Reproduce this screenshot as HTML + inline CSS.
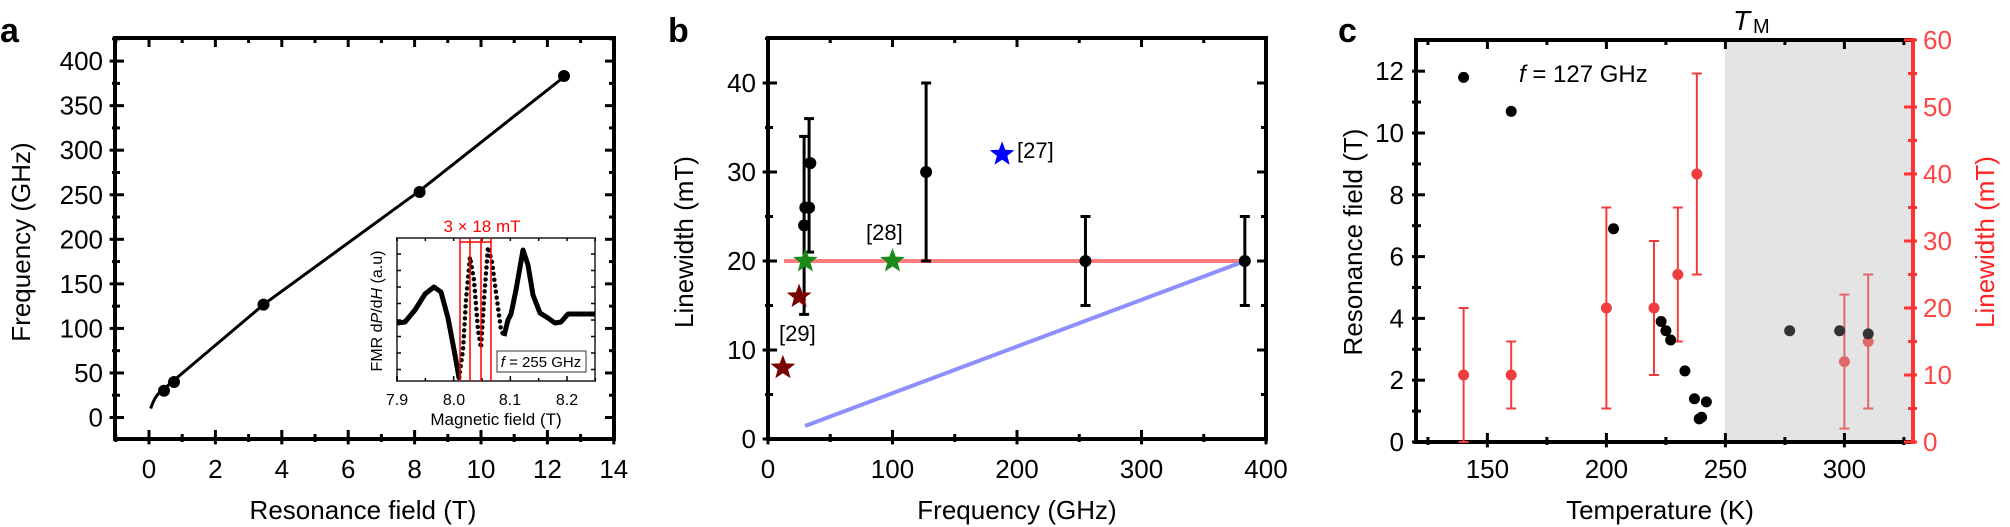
<!DOCTYPE html>
<html><head><meta charset="utf-8">
<style>
html,body{margin:0;padding:0;background:#fff;}
svg{display:block;font-family:"Liberation Sans",Arial,sans-serif;}
</style></head>
<body>
<svg id="s" width="2010" height="527" viewBox="0 0 2010 527" xmlns="http://www.w3.org/2000/svg">
<!-- panel c gray region -->
<rect x="1725" y="40" width="188" height="402" fill="#e4e4e4"/>

<!-- Panel letters -->
<text x="0" y="42" font-size="34" font-weight="bold">a</text>
<text x="668" y="42" font-size="34" font-weight="bold">b</text>
<text x="1338" y="42" font-size="34" font-weight="bold">c</text>

<!-- Panel a -->
<g id="pa"></g>
<text x="363" y="519" font-size="26" text-anchor="middle">Resonance field (T)</text>
<text transform="translate(30,242) rotate(-90)" font-size="26" text-anchor="middle">Frequency (GHz)</text>
<path d="M150.7,408.6 Q155,395 162,390.8 L171.9,382 L263.5,304.6 L419.6,190.8 L563.9,77" fill="none" stroke="#000" stroke-width="3"/>
<g fill="#000">
<circle cx="164" cy="390.8" r="6"/><circle cx="174" cy="382" r="6"/>
<circle cx="263.5" cy="304.6" r="6"/><circle cx="419.6" cy="192" r="6"/><circle cx="564" cy="76" r="6"/>
</g>
<!-- inset -->
<rect x="397" y="238" width="198" height="143" fill="#fff" stroke="#555" stroke-width="2"/>
<g id="inset"></g>
<polyline points="397,323 405,322 415,310 425,294 434,287 441,292 448,318 455,355 459,378" fill="none" stroke="#000" stroke-width="5" stroke-linejoin="round"/>
<polyline points="459,378 463,350 466,300 470,257 474,280 478,330 481,348 484,300 488,247 492,262 497,300 501,330 504,336" fill="none" stroke="#000" stroke-width="4.5" stroke-linecap="round" stroke-dasharray="0 6"/>
<polyline points="504,336 508,320 511,314 516,290 523,250 528,265 533,295 540,313 548,318 555,323 561,322 568,314 595,314" fill="none" stroke="#000" stroke-width="5" stroke-linejoin="round"/>
<g stroke="#f00" stroke-width="1.5">
<line x1="460" y1="238" x2="460" y2="381"/><line x1="470" y1="238" x2="470" y2="381"/>
<line x1="481" y1="238" x2="481" y2="381"/><line x1="491" y1="238" x2="491" y2="381"/>
<line x1="460" y1="242" x2="491" y2="242"/>
</g>
<text x="482" y="232" font-size="17" fill="#f00" text-anchor="middle">3 × 18 mT</text>
<rect x="497" y="351" width="89" height="21" fill="#fff" stroke="#333" stroke-width="1"/>
<text x="541" y="367" font-size="15" text-anchor="middle"><tspan font-style="italic">f</tspan> = 255 GHz</text>
<g font-size="16" text-anchor="middle">
<text x="397" y="405">7.9</text><text x="454" y="405">8.0</text><text x="510" y="405">8.1</text><text x="567" y="405">8.2</text>
</g>
<text x="496" y="425" font-size="17" text-anchor="middle">Magnetic field (T)</text>
<text transform="translate(382,311) rotate(-90)" font-size="16" text-anchor="middle">FMR d<tspan font-style="italic">P</tspan>/d<tspan font-style="italic">H</tspan> (a.u)</text>

<!-- Panel b -->
<g id="pb"></g>
<text x="1017" y="519" font-size="26" text-anchor="middle">Frequency (GHz)</text>
<text transform="translate(693,242) rotate(-90)" font-size="26" text-anchor="middle">Linewidth (mT)</text>
<line x1="784" y1="261" x2="1245" y2="261" stroke="#f77" stroke-width="4" opacity="0.95"/>
<line x1="805" y1="426" x2="1245" y2="261" stroke="#88f" stroke-width="4" opacity="0.95"/>
<g stroke="#000" stroke-width="3" id="bars"></g>
<g id="stars"></g>
<g font-size="22">
<text x="1017" y="158">[27]</text><text x="866" y="240">[28]</text><text x="779" y="341">[29]</text>
</g>

<!-- Panel c -->
<g id="pc"></g>
<text x="1660" y="519" font-size="26" text-anchor="middle">Temperature (K)</text>
<text transform="translate(1362,242) rotate(-90)" font-size="26" text-anchor="middle">Resonance field (T)</text>
<text transform="translate(1994,242) rotate(-90)" font-size="26" text-anchor="middle" fill="#f22">Linewidth (mT)</text>
<text x="1733" y="30" font-size="28" font-style="italic">T</text><text x="1753" y="33" font-size="20">M</text>
<text x="1519" y="82" font-size="24"><tspan font-style="italic">f</tspan> = 127 GHz</text>
<g id="cpts"></g>
</svg>
<script>
var NS="http://www.w3.org/2000/svg";
function el(p,t,a){var e=document.createElementNS(NS,t);for(var k in a)e.setAttribute(k,a[k]);document.getElementById(p).appendChild(e);return e;}
function txt(p,x,y,s,sz,anc,fill){var e=el(p,"text",{x:x,y:y,"font-size":sz,"text-anchor":anc||"middle",fill:fill||"#000"});e.textContent=s;}
function frame(g,L,T,R,B,rightCol){
  el(g,"line",{x1:L,y1:T,x2:R,y2:T,stroke:"#000","stroke-width":4});
  el(g,"line",{x1:L,y1:B,x2:R,y2:B,stroke:"#000","stroke-width":4});
  el(g,"line",{x1:L,y1:T-2,x2:L,y2:B+2,stroke:"#000","stroke-width":4});
  el(g,"line",{x1:R,y1:T-2,x2:R,y2:B+2,stroke:rightCol||"#000","stroke-width":4});
}
function xt(g,x,T,B,len){el(g,"line",{x1:x,y1:B-len,x2:x,y2:B+len*0.6,stroke:"#000","stroke-width":3});el(g,"line",{x1:x,y1:T,x2:x,y2:T+len,stroke:"#000","stroke-width":3});}
function yt(g,y,L,R,len,col,rOnly){if(!rOnly)el(g,"line",{x1:L-len*0.6,y1:y,x2:L+len,y2:y,stroke:"#000","stroke-width":3});el(g,"line",{x1:R-len,y1:y,x2:R+(col?len*0.6:0),y2:y,stroke:col||"#000","stroke-width":3});}
// Panel a
(function(){var L=115,T=38,R=614,B=439;frame("pa",L,T,R,B);
for(var v=-1;v<=14;v++){var x=149+33.2*v;if(x<L||x>R)continue;xt("pa",x,T,B,v%2==0?9:5);if(v%2==0&&v>=0)txt("pa",x,478,v,26);}
for(var f=-25;f<=425;f+=25){var y=417.5-0.891*f;if(y<T||y>B)continue;yt("pa",y,L,R,f%50==0?9:5);if(f%50==0&&f>=0)txt("pa",L-12,y+9,f,26,"end");}
})();
// inset ticks
(function(){var L=397,T=238,R=595,B=381;
for(var v=7.9;v<8.26;v+=0.05){var x=397+566.7*(v-7.9);el("inset","line",{x1:x,y1:B,x2:x,y2:B-(Math.round(v*100)%10==0?5:3),stroke:"#000","stroke-width":1.5});el("inset","line",{x1:x,y1:T,x2:x,y2:T+3,stroke:"#000","stroke-width":1.5});}
for(var y=254;y<381;y+=16.5){el("inset","line",{x1:L,y1:y,x2:L+4,y2:y,stroke:"#000","stroke-width":1.5});el("inset","line",{x1:R,y1:y,x2:R-4,y2:y,stroke:"#000","stroke-width":1.5});}
})();
// Panel b
(function(){var L=768,T=38,R=1266,B=439;frame("pb",L,T,R,B);
function X(f){return 768+1.245*f;}function Y(m){return 439-8.9*m;}
for(var f=0;f<=400;f+=50){var x=X(f);xt("pb",x,T,B,f%100==0?9:5);if(f%100==0)txt("pb",x,478,f,26);}
for(var m=0;m<=45;m+=5){var y=Y(m);yt("pb",y,L,R,m%10==0?9:5);if(m%10==0)txt("pb",L-12,y+9,m,26,"end");}
var bars=[[29,14,34],[33,21,36],[127,20,40],[255,15,25],[383,15,25]];
bars.forEach(function(b){var x=X(b[0]);el("bars","line",{x1:x,y1:Y(b[1]),x2:x,y2:Y(b[2])});el("bars","line",{x1:x-5,y1:Y(b[1]),x2:x+5,y2:Y(b[1])});el("bars","line",{x1:x-5,y1:Y(b[2]),x2:x+5,y2:Y(b[2])});});
[[29,24],[30,26],[33,26],[34,31],[127,30],[255,20],[383,20]].forEach(function(p){el("bars","circle",{cx:X(p[0]),cy:Y(p[1]),r:6,fill:"#000",stroke:"none"});});
function star(cx,cy,r,c){var pts=[];for(var i=0;i<10;i++){var a=-Math.PI/2+i*Math.PI/5;var rr=i%2?r*0.42:r;pts.push((cx+rr*Math.cos(a)).toFixed(1)+","+(cy+rr*Math.sin(a)).toFixed(1));}el("stars","polygon",{points:pts.join(" "),fill:c});}
star(X(12),Y(8),13,"#7a0000");star(X(25),Y(16),13,"#7a0000");
star(X(30),Y(20),13,"#1a8a1a");star(X(100),Y(20),13,"#1a8a1a");star(X(188),Y(32),13,"#0000ff");
})();
// Panel c
(function(){var L=1416,T=40,R=1913,B=442;frame("pc",L,T,R,B,"#f33");
function X(t){return 1416+(t-120)*2.38;}function YL(b){return 442-30.9*b;}function YR(m){return 442-6.7*m;}
for(var t=125;t<=325;t+=25){var x=X(t);xt("pc",x,T,B,t%50==0?9:5);if(t%50==0)txt("pc",x,478,t,26);}
for(var b=0;b<=12;b++){var y=YL(b);el("pc","line",{x1:L-4,y1:y,x2:L+(b%2==0?9:5),y2:y,stroke:"#000","stroke-width":3});if(b%2==0)txt("pc",L-12,y+9,b,26,"end");}
for(var m=0;m<=60;m+=5){var y=YR(m);el("pc","line",{x1:R-(m%10==0?9:5),y1:y,x2:R+4,y2:y,stroke:"#f33","stroke-width":3});if(m%10==0)txt("pc",R+10,y+9,m,26,"start","#f44");}
[[140,10,0,20],[160,10,5,15],[200,20,5,35],[220,20,10,30],[230,25,15,35],[238,40,25,55],[300,12,2,22],[310,15,5,25]].forEach(function(p){var x=X(p[0]);var c=p[0]>250?"#e06868":"#f03c3c";
el("cpts","line",{x1:x,y1:YR(p[2]),x2:x,y2:YR(p[3]),stroke:c,"stroke-width":2});
el("cpts","line",{x1:x-5,y1:YR(p[2]),x2:x+5,y2:YR(p[2]),stroke:c,"stroke-width":2});
el("cpts","line",{x1:x-5,y1:YR(p[3]),x2:x+5,y2:YR(p[3]),stroke:c,"stroke-width":2});
el("cpts","circle",{cx:x,cy:YR(p[1]),r:5.5,fill:c});});
[[140,11.8],[160,10.7],[203,6.9],[223,3.9],[225,3.6],[227,3.3],[233,2.3],[237,1.4],[239,0.75],[240,0.8],[242,1.3],[277,3.6],[298,3.6],[310,3.5]].forEach(function(p){el("cpts","circle",{cx:X(p[0]),cy:YL(p[1]),r:5.5,fill:p[0]>250?"#333":"#000"});});
})();
</script>
</body></html>
